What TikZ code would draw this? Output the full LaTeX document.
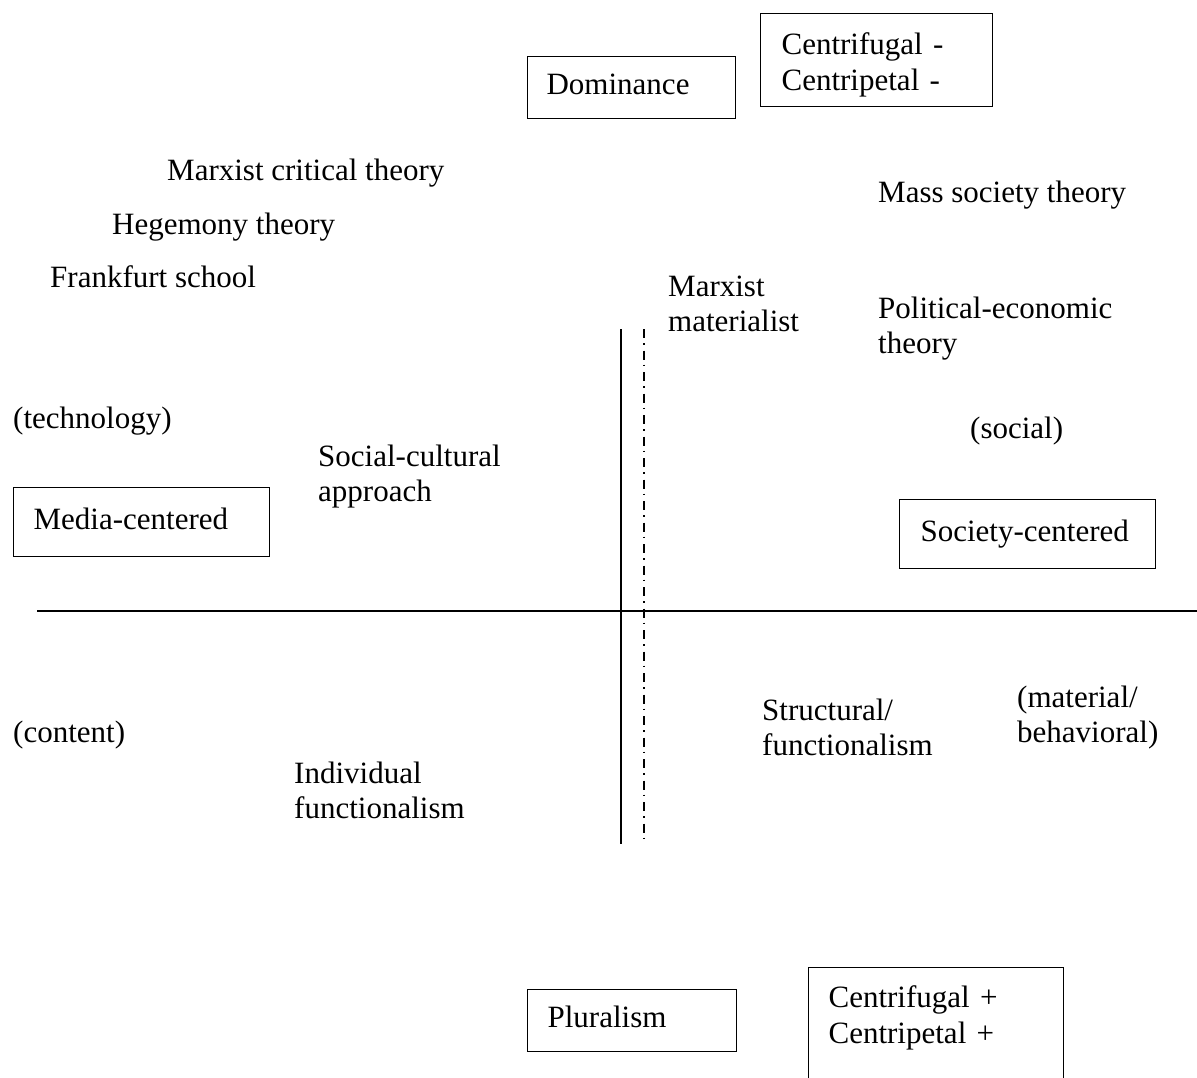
\documentclass[tikz,border=0pt]{standalone}
\usepackage{fontspec}
\setmainfont{Liberation Serif}
\newcommand\lblfont{\fontsize{31}{35.5}\selectfont}
\begin{document}
\begin{tikzpicture}[x=1pt,y=-1pt,
  lbl/.style={anchor=north west, inner sep=0pt, align=left, font=\lblfont},
  box/.style={draw, line width=1.2pt, anchor=north west, align=left, font=\lblfont, inner ysep=0pt},
  axisline/.style={line width=1.5pt},
  dashdotline/.style={line width=1.3pt, dash pattern=on 9pt off 5pt on 1.5pt off 6pt}]
\clip (0,0) rectangle (1197,1077);

% boxes
\node[box, minimum width=208pt, minimum height=62pt, text width=170pt, inner xsep=19pt] (dom) at (527,56) {\strut Dominance};
\node[box, minimum width=232pt, minimum height=93pt, text width=190pt, inner xsep=21pt] (cfm) at (760,13) {\rule{0pt}{35pt}Centrifugal -\\Centripetal -\strut};
\node[box, minimum width=256pt, minimum height=69pt, text width=216pt, inner xsep=20pt] (media) at (13,487) {\strut Media-centered};
\node[box, minimum width=256pt, minimum height=69pt, text width=214pt, inner xsep=21pt] (society) at (899,499) {\strut Society-centered};
\node[box, minimum width=209pt, minimum height=62pt, text width=169pt, inner xsep=20pt] (plur) at (527,989) {\strut Pluralism};
\node[box, minimum width=255pt, minimum height=137pt, text width=215pt, inner xsep=20pt] (cfp) at (808,967) {\strut Centrifugal +\\Centripetal +\\\strut};

% labels
\node[lbl] (mct) at (167,155) {\strut Marxist critical theory};
\node[lbl] (heg) at (112,209) {\strut Hegemony theory};
\node[lbl] (frank) at (50,262) {\strut Frankfurt school};
\node[lbl] (mass) at (878,177) {\strut Mass society theory};
\node[lbl] (marxmat) at (668,271) {\strut Marxist\\materialist\strut};
\node[lbl] (polecon) at (878,293) {\strut Political-economic\\theory\strut};
\node[lbl] (tech) at (13,403) {\strut (technology)};
\node[lbl] (social) at (970,413) {\strut (social)};
\node[lbl] (socult) at (318,441) {\strut Social-cultural\\approach\strut};
\node[lbl] (content) at (13,717) {\strut (content)};
\node[lbl] (indiv) at (294,758) {\strut Individual\\functionalism\strut};
\node[lbl] (struct) at (762,695) {\strut Structural/\\functionalism\strut};
\node[lbl] (matbeh) at (1017,682) {\strut (material/\\behavioral)\strut};

% axes
\coordinate (hL) at (37,611);
\coordinate (hR) at (1197,611);
\coordinate (vT) at (621,329);
\coordinate (vB) at (621,844);
\coordinate (dT) at (644,329);
\coordinate (dB) at (644,844);
\draw[axisline] (hL) -- (hR);
\draw[axisline] (vT) -- (vB);
\draw[dashdotline] (dT) -- (dB);
\end{tikzpicture}
\end{document}
